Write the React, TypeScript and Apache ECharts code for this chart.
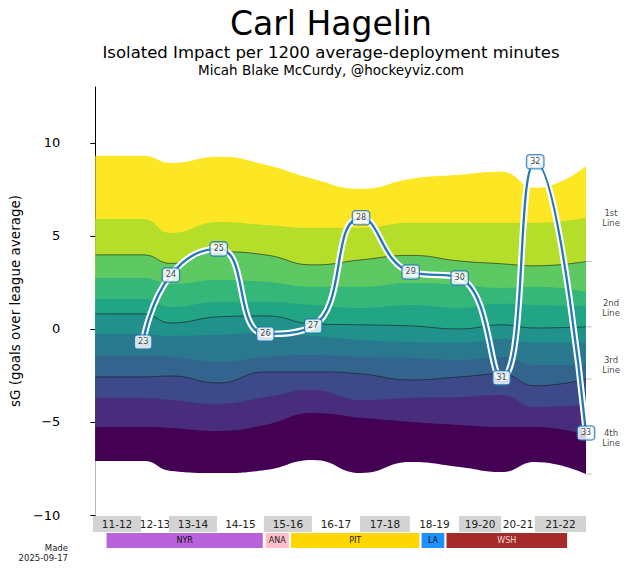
import React, { useEffect, useRef } from 'react';
import * as echarts from 'echarts';

const seasons = ['11-12', '12-13', '13-14', '14-15', '15-16', '16-17', '17-18', '18-19', '19-20', '20-21', '21-22'];
const seasonGames = [81, 47, 81, 79, 81, 81, 84, 83, 71, 57, 86];

const ages = [23, 24, 25, 26, 27, 28, 29, 30, 31, 32, 33];
const impact = [-0.7, 2.9, 4.3, -0.27, 0.16, 5.97, 3.06, 2.74, -2.63, 8.98, -5.59];

// band edges, top to bottom, at each season boundary
const edge1 = [9.3, 9.3, 8.92, 9.25, 8.82, 8.06, 7.53, 8.06, 8.28, 8.44, 7.58, 8.76];
const edge2 = [5.91, 5.91, 5.16, 5.75, 5.59, 5.43, 5.43, 5.7, 5.7, 5.7, 5.7, 5.97];
const edge3 = [3.98, 3.98, 3.52, 4.14, 3.98, 3.44, 3.71, 3.95, 3.65, 3.5, 3.39, 3.62];
const edge4 = [2.74, 2.74, 2.42, 2.63, 2.53, 2.26, 2.26, 2.47, 2.37, 2.2, 2.26, 1.99];
const edge5 = [1.61, 1.61, 1.18, 1.45, 1.45, 1.29, 1.13, 1.29, 1.13, 1.35, 1.29, 1.24];
const edge6 = [0.81, 0.81, 0.32, 0.65, 0.7, 0.27, 0.22, 0.16, 0.0, 0.22, 0.05, 0.11];
const edge7 = [-0.27, -0.27, -0.38, -0.32, -0.22, -0.38, -0.59, -0.7, -0.75, -0.54, -0.75, -0.75];
const edge8 = [-1.45, -1.45, -1.51, -1.77, -1.51, -1.4, -1.51, -1.56, -1.67, -1.51, -1.94, -1.94];
const edge9 = [-2.58, -2.58, -2.53, -2.9, -2.31, -2.31, -2.42, -2.74, -2.58, -2.42, -3.06, -2.69];
const edge10 = [-3.71, -3.71, -3.82, -4.03, -3.66, -3.28, -3.82, -3.71, -3.66, -3.55, -4.19, -4.09];
const edge11 = [-5.27, -5.27, -5.32, -5.48, -5.16, -4.52, -4.78, -5.0, -5.16, -5.27, -5.27, -5.7];
const edge12 = [-7.1, -7.1, -7.63, -7.74, -7.58, -7.04, -7.74, -7.15, -7.42, -7.69, -7.15, -7.8];
const edges = [edge1, edge2, edge3, edge4, edge5, edge6, edge7, edge8, edge9, edge10, edge11, edge12];
const groupEdges = [2, 5, 8, 11];

const bandColors = ['#fde725', '#b5de2b', '#5ec962', '#35b779', '#21a585', '#21918c', '#2a788e', '#32648e', '#3e4989', '#472d7b', '#440154'];

const roleLabels = ['1st\nLine', '2nd\nLine', '3rd\nLine', '4th\nLine'];
const roleValues = [5.97, 1.13, -1.94, -5.86];

const teams = ['NYR', 'ANA', 'PIT', 'LA', 'WSH'];
const teamStart = [22, 290, 333, 553, 595];
const teamEnd = [287, 331, 551, 593, 800];
const teamColors = ['#b862dc', '#ffc0cb', '#ffd700', '#1e90ff', '#a52a2a'];
const teamText = ['#111', '#222', '#222', '#111', '#f3dada'];

const yTicks = [-10, -5, 0, 5, 10];

const FONT = 'DejaVu Sans';
const BLUE = '#2277b4';

const xs: number[] = [0];
seasonGames.forEach((g) => xs.push(xs[xs.length - 1] + g));
const total = xs[xs.length - 1];

const App: React.FC = () => {
  const chartRef = useRef<HTMLDivElement>(null);

  useEffect(() => {
    if (!chartRef.current) return;
    const chart = echarts.init(chartRef.current, undefined, { renderer: 'svg' });

    const bandSeries = edges.map((e, k) => ({
      type: 'line',
      xAxisIndex: 0,
      yAxisIndex: 0,
      data: xs.map((x, i) => [x, e[i]]),
      smooth: 0.5,
      symbol: 'none',
      silent: true,
      z: 1,
      lineStyle: groupEdges.includes(k) && k < 11
        ? { width: 0.8, color: 'rgba(25,25,25,0.75)' }
        : { width: 0, opacity: 0 },
      areaStyle: { origin: 'start', opacity: 1, color: k < 11 ? bandColors[k] : '#ffffff' }
    }));

    const agePoints = ages.map((a, i) => [xs[i + 1], impact[i]]);

    const option = {
      animation: false,
      textStyle: { fontFamily: FONT },
      grid: [
        { left: 93, top: 87, width: 493, height: 428 },
        { left: 93, top: 516, width: 493, height: 32 }
      ],
      xAxis: [
        { type: 'value', gridIndex: 0, min: 0, max: total, show: false },
        { type: 'value', gridIndex: 1, min: 0, max: total, show: false }
      ],
      yAxis: [
        {
          type: 'value',
          gridIndex: 0,
          min: -10,
          max: 13,
          interval: 5,
          offset: 24,
          splitLine: { show: false },
          axisLine: { show: true, lineStyle: { color: '#000', width: 1 } },
          axisTick: { show: true, length: 5, customValues: yTicks, lineStyle: { color: '#000' } },
          axisLabel: {
            customValues: yTicks,
            margin: 11,
            fontSize: 13,
            color: '#000',
            fontFamily: FONT,
            formatter: (v: number) => (v % 5 === 0 ? String(v).replace('-', '\u2212') : '')
          },
          name: 'sG (goals over league average)',
          nameLocation: 'middle',
          nameGap: 43,
          nameTextStyle: { fontSize: 13.5, color: '#000', fontFamily: FONT }
        },
        { type: 'value', gridIndex: 1, min: 0, max: 2, show: false }
      ],
      graphic: [
        { type: 'text', x: 331, y: 23, style: { text: 'Carl Hagelin', fontSize: 33, fontFamily: FONT, fill: '#000', align: 'center', verticalAlign: 'middle' } },
        { type: 'text', x: 331, y: 52, style: { text: 'Isolated Impact per 1200 average-deployment minutes', fontSize: 16.5, fontFamily: FONT, fill: '#000', align: 'center', verticalAlign: 'middle' } },
        { type: 'text', x: 331, y: 70, style: { text: 'Micah Blake McCurdy, @hockeyviz.com', fontSize: 13.5, fontFamily: FONT, fill: '#000', align: 'center', verticalAlign: 'middle' } },
        { type: 'text', x: 68, y: 548, style: { text: 'Made', fontSize: 8.5, fontFamily: FONT, fill: '#222', align: 'right', verticalAlign: 'middle' } },
        { type: 'text', x: 68, y: 558, style: { text: '2025-09-17', fontSize: 8.5, fontFamily: FONT, fill: '#222', align: 'right', verticalAlign: 'middle' } }
      ],
      series: [
        ...bandSeries,
        {
          type: 'line',
          data: agePoints,
          smooth: 0.5,
          symbol: 'none',
          z: 5,
          silent: true,
          lineStyle: { width: 6.5, color: '#ffffff' }
        },
        {
          type: 'line',
          data: agePoints,
          smooth: 0.5,
          symbol: 'none',
          z: 6,
          silent: true,
          lineStyle: { width: 2.3, color: BLUE }
        },
        {
          type: 'scatter',
          data: agePoints,
          symbolSize: 1,
          itemStyle: { color: 'rgba(0,0,0,0)' },
          z: 8,
          clip: false,
          label: {
            show: true,
            position: 'inside',
            formatter: (p: any) => String(ages[p.dataIndex]),
            fontSize: 8,
            lineHeight: 9,
            color: '#111',
            fontFamily: FONT,
            backgroundColor: '#fff',
            borderColor: BLUE,
            borderWidth: 1.3,
            borderRadius: 2.5,
            padding: [2, 3, 2, 3]
          }
        },
        {
          type: 'scatter',
          data: roleValues.map((v) => [total, v]),
          symbolSize: 1,
          itemStyle: { color: 'rgba(0,0,0,0)' },
          clip: false,
          label: {
            show: true,
            position: 'inside',
            offset: [25, 0],
            formatter: (p: any) => roleLabels[p.dataIndex],
            fontSize: 8.5,
            lineHeight: 10,
            align: 'center',
            color: '#111',
            fontFamily: FONT
          }
        },
        {
          type: 'scatter',
          data: groupEdges.map((k) => [total, edges[k][edges[k].length - 1]]),
          symbol: 'rect',
          symbolSize: [5, 0.9],
          symbolOffset: [3, 0],
          itemStyle: { color: '#a0a0a0' },
          clip: false,
          z: 2
        },
        {
          type: 'custom',
          xAxisIndex: 1,
          yAxisIndex: 1,
          data: seasons.map((s, i) => [xs[i], xs[i + 1]]),
          encode: { x: [0, 1] },
          renderItem: (params: any, api: any) => {
            const i = params.dataIndex;
            const p0 = api.coord([api.value(0), 2]);
            const p1 = api.coord([api.value(1), 1]);
            return {
              type: 'group',
              children: [
                {
                  type: 'rect',
                  shape: { x: p0[0], y: p0[1], width: p1[0] - p0[0], height: p1[1] - p0[1] },
                  style: { fill: i % 2 === 0 ? '#d3d3d3' : 'rgba(0,0,0,0)' }
                },
                {
                  type: 'text',
                  style: {
                    text: seasons[i],
                    x: (p0[0] + p1[0]) / 2,
                    y: (p0[1] + p1[1]) / 2,
                    align: 'center',
                    verticalAlign: 'middle',
                    fontSize: 10.5,
                    fontFamily: FONT,
                    fill: '#222'
                  }
                }
              ]
            };
          }
        },
        {
          type: 'custom',
          xAxisIndex: 1,
          yAxisIndex: 1,
          data: teams.map((t, i) => [teamStart[i], teamEnd[i]]),
          encode: { x: [0, 1] },
          renderItem: (params: any, api: any) => {
            const i = params.dataIndex;
            const p0 = api.coord([api.value(0), 1]);
            const p1 = api.coord([api.value(1), 0]);
            return {
              type: 'group',
              children: [
                {
                  type: 'rect',
                  shape: { x: p0[0] + 0.5, y: p0[1] + 1, width: p1[0] - p0[0] - 1, height: p1[1] - p0[1] - 1 },
                  style: { fill: teamColors[i] }
                },
                {
                  type: 'text',
                  style: {
                    text: teams[i],
                    x: (p0[0] + p1[0]) / 2,
                    y: (p0[1] + p1[1]) / 2 + 0.5,
                    align: 'center',
                    verticalAlign: 'middle',
                    fontSize: 8,
                    fontFamily: FONT,
                    fill: teamText[i]
                  }
                }
              ]
            };
          }
        }
      ]
    };

    chart.setOption(option as any);

    return () => {
      chart.dispose();
    };
  }, []);

  return (
    <div
      ref={chartRef}
      style={{ position: 'fixed', left: 0, top: 0, width: 629, height: 572, background: '#fff' }}
    />
  );
};

export default App;
